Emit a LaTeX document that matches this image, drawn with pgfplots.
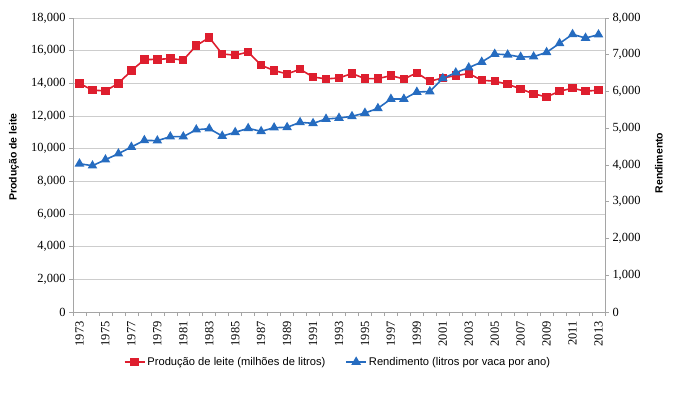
\documentclass[border=0pt]{standalone}
\usepackage{fontspec}
\setmainfont{Liberation Sans}
\newfontfamily\myserif{Liberation Serif}
\usepackage{pgfplots}
\pgfplotsset{compat=1.18}
\definecolor{cred}{RGB}{222,30,46}
\definecolor{cblue}{RGB}{38,108,192}
\definecolor{gridc}{RGB}{205,205,205}
\definecolor{axc}{RGB}{165,165,165}
\newcommand{\ytl}{{\myserif\fontsize{12.5}{13}\selectfont\pgfmathprintnumber[assume math mode=true,1000 sep={,}]{\tick}}}
\newcommand{\xtl}{{\myserif\fontsize{12.5}{13}\selectfont\pgfmathprintnumber[assume math mode=true,1000 sep={}]{\tick}}}
\begin{document}
\begin{tikzpicture}
\useasboundingbox (-73bp,-84bp) rectangle (609bp,312bp);
\pgfplotsset{
  base/.style={scale only axis, width=532bp, height=294bp, xmin=1972.5, xmax=2013.5,
    yticklabel={\ytl}, xticklabel={\xtl},
    scaled y ticks=false, tick align=outside, major tick length=4bp, minor tick length=4bp,
    tick style={axc, line width=0.6pt},
    axis line style={axc, line width=0.8pt},
    ylabel style={font=\fontsize{10.5}{12}\selectfont\bfseries},
  }
}
\begin{axis}[base, axis x line*=bottom, axis y line*=left, ymin=0, ymax=18000, ytick={0,2000,...,18000},
  ymajorgrids, grid style={gridc, line width=0.8pt},
  xtick={1973,1975,...,2013}, minor xtick={1972.5,1973.5,...,2013.5},
  major x tick style={draw=none},
  x tick label style={rotate=90, anchor=east, xshift=-2bp},
  ylabel={Produção de leite}, ylabel style={at={(axis description cs:-0.111,0.527)}, anchor=center},
]
\addplot[cred, line width=1.6pt, mark=square*, mark size=3.4bp] coordinates {
(1973,14000)(1974,13580)(1975,13540)(1976,14000)(1977,14780)(1978,15450)(1979,15470)(1980,15510)
(1981,15430)(1982,16310)(1983,16800)(1984,15800)(1985,15720)(1986,15920)(1987,15110)(1988,14780)
(1989,14580)(1990,14860)(1991,14390)(1992,14270)(1993,14330)(1994,14600)(1995,14290)(1996,14290)
(1997,14470)(1998,14270)(1999,14640)(2000,14130)(2001,14330)(2002,14470)(2003,14600)(2004,14190)
(2005,14130)(2006,13945)(2007,13660)(2008,13355)(2009,13170)(2010,13520)(2011,13700)(2012,13520)(2013,13580)};
\end{axis}
\begin{axis}[base, axis y line*=right, axis x line=none, ymin=0, ymax=8000, ytick={0,1000,...,8000},
  ylabel={Rendimento}, ylabel style={at={(axis description cs:1.1015,0.507)}, anchor=center},
  legend style={at={(0.498,-0.17)}, anchor=center, draw=none, legend columns=2,
    font=\fontsize{11.2}{13}\selectfont, /tikz/every even column/.append style={column sep=18bp}},
  legend image code/.code={\draw[#1] (0bp,0bp) -- (20bp,0bp); \draw[#1, only marks] plot coordinates {(10bp,0bp)};},
]
\addlegendimage{cred, line width=1.6pt, mark=square*, mark size=3.4bp}
\addlegendentry{Produção de leite (milhões de litros)}
\addplot[cblue, line width=1.6pt, mark=triangle*, mark size=4bp] coordinates {
(1973,4035)(1974,3981)(1975,4145)(1976,4308)(1977,4490)(1978,4671)(1979,4662)(1980,4771)
(1981,4771)(1982,4961)(1983,4988)(1984,4789)(1985,4889)(1986,4998)(1987,4916)(1988,5016)
(1989,5025)(1990,5161)(1991,5134)(1992,5252)(1993,5279)(1994,5324)(1995,5415)(1996,5542)
(1997,5796)(1998,5796)(1999,5986)(2000,6000)(2001,6358)(2002,6512)(2003,6649)(2004,6803)
(2005,7020)(2006,7000)(2007,6939)(2008,6948)(2009,7066)(2010,7311)(2011,7556)(2012,7456)(2013,7547)};
\addlegendentry{Rendimento (litros por vaca por ano)}
\end{axis}
\end{tikzpicture}
\end{document}
